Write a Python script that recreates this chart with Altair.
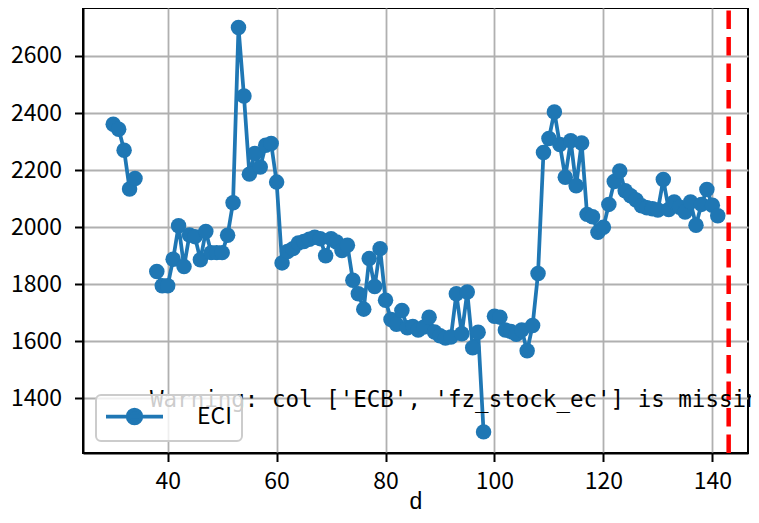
import altair as alt
import pandas as pd

# ---- data ----
days = list(range(30, 35)) + list(range(38, 99)) + list(range(100, 142))
eci = [
    2361, 2343, 2270, 2134, 2171,
    1845, 1795, 1795, 1888, 2005, 1862, 1973, 1967, 1886, 1985, 1911, 1911, 1911,
    1972, 2086, 2700, 2460, 2186, 2258, 2211, 2287, 2293, 2158, 1875, 1915, 1925,
    1945, 1950, 1958, 1965, 1960, 1900, 1960, 1948, 1918, 1937, 1814, 1767, 1713,
    1890, 1792, 1925, 1744, 1677, 1660, 1708, 1648, 1652, 1640, 1650, 1685, 1633,
    1620, 1612, 1615, 1767, 1627, 1773, 1578, 1632, 1283,
    1688, 1685, 1640, 1635, 1625, 1640, 1567, 1656, 1838, 2262, 2311, 2404, 2290,
    2175, 2303, 2145, 2295, 2045, 2037, 1982, 2000, 2080, 2160, 2197, 2128, 2110,
    2095, 2075, 2068, 2065, 2060, 2167, 2062, 2088, 2070, 2053, 2088, 2007, 2080,
    2132, 2077, 2040,
]
series_name = ["ECI"]
vline_day = [143]
warning_text = ["Warning: col ['ECB', 'fz_stock_ec'] is missing"]
x_ticks = [40, 60, 80, 100, 120, 140]
y_ticks = [1400, 1600, 1800, 2000, 2200, 2400, 2600]

df = pd.DataFrame({"d": days, "ECI": eci})
df["seg"] = (df["d"].diff().fillna(1) > 1).cumsum()
df["series"] = series_name[0]

BLUE = "#1f77b4"
FONT = "Noto Sans CJK SC"

x_scale = alt.Scale(domain=[24.45, 146.55], nice=False, zero=False)
y_scale = alt.Scale(domain=[1209, 2768], nice=False, zero=False)

line = alt.Chart(df).mark_line(color=BLUE, strokeWidth=3.75).encode(
    x=alt.X("d:Q", scale=x_scale, axis=alt.Axis(values=x_ticks, title="d", format="d")),
    y=alt.Y("ECI:Q", scale=y_scale, axis=alt.Axis(values=y_ticks, title=None, format="d")),
    detail="seg:N",
)

legend_path = "M-3,0L3,0M0.72,0A0.72,0.72,0,1,1,-0.72,0A0.72,0.72,0,1,1,0.72,0Z"

points = alt.Chart(df).mark_point(filled=True, opacity=1, size=240, shape="circle").encode(
    x=alt.X("d:Q", scale=x_scale),
    y=alt.Y("ECI:Q", scale=y_scale),
    color=alt.Color(
        "series:N",
        scale=alt.Scale(range=[BLUE]),
        legend=alt.Legend(
            orient="none", legendX=13, legendY=387, title=None,
            symbolType=legend_path, symbolSize=361, symbolStrokeWidth=3.75,
            symbolStrokeColor=BLUE, symbolFillColor=BLUE, symbolOpacity=1,
            symbolOffset=17, labelOffset=51,
            labelFont=FONT, labelFontSize=23, labelColor="black",
            padding=10, fillColor="rgba(255,255,255,0.8)", strokeColor="#cccccc",
            cornerRadius=5,
        ),
    ),
)

rule = alt.Chart(pd.DataFrame({"d": vline_day})).mark_rule(
    color="red", strokeWidth=4.5, strokeDash=[18.5, 8], strokeDashOffset=24
).encode(x=alt.X("d:Q", scale=x_scale))

text = alt.Chart(pd.DataFrame({"t": warning_text})).mark_text(
    align="left", baseline="alphabetic", font="DejaVu Sans Mono", fontSize=22.5, color="black"
).encode(x=alt.value(67), y=alt.value(398.7), text="t:N")

chart = (
    alt.layer(line, points, rule, text)
    .properties(
        width=665, height=445,
        autosize=alt.AutoSizeParams(type="none"),
        padding={"left": 75, "top": 0, "right": 3, "bottom": 62},
    )
    .configure(font=FONT)
    .configure_view(stroke="black", strokeWidth=2)
    .configure_axis(
        domainColor="black", domainWidth=2, tickColor="black", tickWidth=2, tickSize=8.5,
        labelFont=FONT, labelFontSize=23, labelColor="black", labelFlush=False,
        gridColor="#b0b0b0", gridWidth=1.8,
        titleFont="Liberation Sans", titleFontSize=23, titleFontWeight="normal", titleColor="black",
    )
    .configure_axisX(labelPadding=9, titlePadding=-3)
    .configure_axisY(labelPadding=13)
    .configure_legend(strokeWidth=2)
)

chart.save("out.html", embed_options={"renderer": "svg", "actions": False})
